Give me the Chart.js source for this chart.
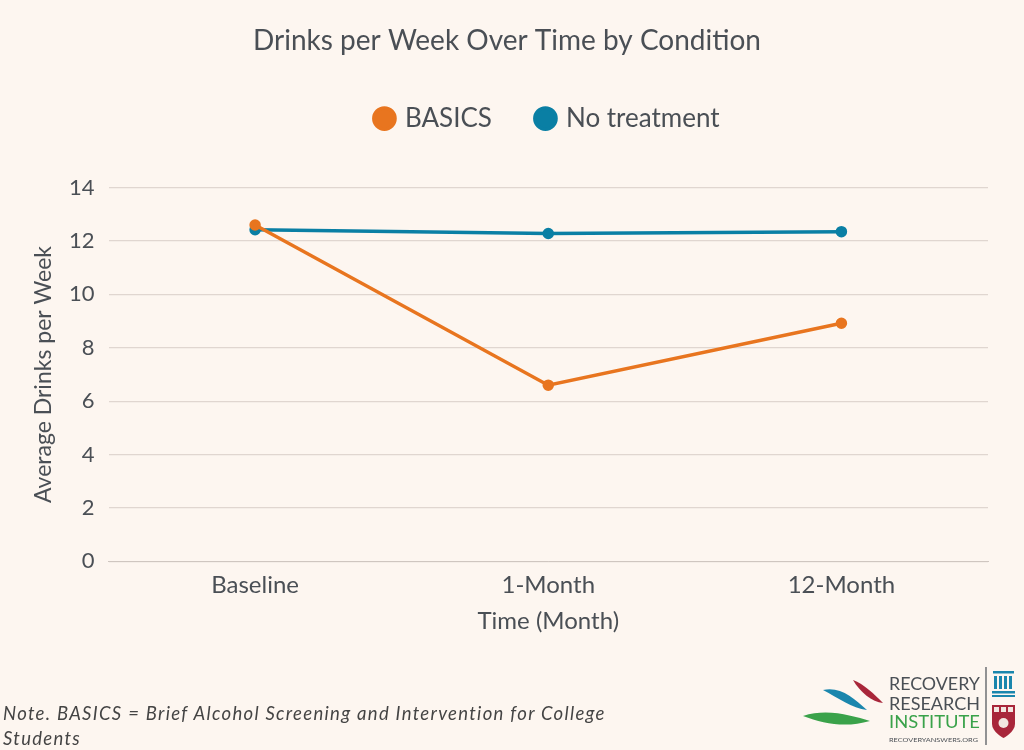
<!DOCTYPE html>
<html>
<head>
<meta charset="utf-8">
<script src="https://cdn.jsdelivr.net/npm/chart.js@4"></script>
<style>
  html, body { margin: 0; padding: 0; background: #fdf6f0; }
  #wrap { position: relative; width: 1024px; height: 750px; }
  #note { position: absolute; left: 3px; top: 701px; width: 625px; font: italic 18.5px Lato, sans-serif; letter-spacing: 1.3px; color: #444; line-height: 25px; }
  #logo { position: absolute; left: 800px; top: 664px; width: 224px; height: 84px; }
</style>
</head>
<body>
<div id="wrap">
  <canvas id="chart" width="1024" height="750"></canvas>
  <div id="note">Note. BASICS = Brief Alcohol Screening and Intervention for College Students</div>
  <svg id="logo" viewBox="0 0 224 84">
    <path d="M23 26 C40 22 54 34 67 46 C52 44 38 34 23 26 Z" fill="#1a86ad"/>
    <path d="M53 16 C64 20 74 30 83 39 C72 38 60 28 53 16 Z" fill="#a8263a"/>
    <path d="M3 52 C28 44 52 52 70 57 C46 64 24 60 3 52 Z" fill="#3aa24a"/>
    <text x="89" y="26" font-family="Lato, sans-serif" font-size="18" fill="#4a4f55" textLength="91" lengthAdjust="spacingAndGlyphs">RECOVERY</text>
    <text x="89" y="46" font-family="Lato, sans-serif" font-size="18" fill="#4a4f55" textLength="91" lengthAdjust="spacingAndGlyphs">RESEARCH</text>
    <text x="89" y="64" font-family="Lato, sans-serif" font-size="18" fill="#3aa24a" textLength="91" lengthAdjust="spacingAndGlyphs">INSTITUTE</text>
    <text x="89" y="78" font-family="Lato, sans-serif" font-size="6.5" fill="#4a4f55" textLength="89" lengthAdjust="spacingAndGlyphs">RECOVERYANSWERS.ORG</text>
    <line x1="186" y1="3" x2="186" y2="81" stroke="#4a4f55" stroke-width="1.2"/>
    <rect x="193" y="7" width="21" height="2.5" fill="#1a86ad"/>
    <rect x="194" y="12" width="3" height="13" fill="#1a86ad"/>
    <rect x="199" y="12" width="3" height="13" fill="#1a86ad"/>
    <rect x="204" y="12" width="3" height="13" fill="#1a86ad"/>
    <rect x="209" y="12" width="3" height="13" fill="#1a86ad"/>
    <rect x="192" y="27" width="23" height="2.5" fill="#1a86ad"/>
    <rect x="192" y="31" width="23" height="2" fill="#1a86ad"/>
    <path d="M192 41 H215 V60 C215 68 203.5 74 203.5 74 C203.5 74 192 68 192 60 Z" fill="#a8263a"/>
    <rect x="194" y="43" width="5" height="5" fill="#f2e6e0"/>
    <rect x="201" y="43" width="5" height="5" fill="#f2e6e0"/>
    <rect x="208" y="43" width="5" height="5" fill="#f2e6e0"/>
    <circle cx="203.5" cy="59" r="5" fill="#f2e6e0"/>
  </svg>
</div>
<script>
// chart data
var timepoints = ['Baseline', '1-Month', '12-Month'];
var basics = [12.6, 6.6, 8.92];
var noTreatment = [12.42, 12.28, 12.35];
var yTicks = [0, 2, 4, 6, 8, 10, 12, 14];

var textColor = '#4a4f55';
var fontFamily = 'Lato, "Open Sans", sans-serif';

// push the plot area down below the legend and centre the legend on the plot
var legendGap = {
    id: 'legendGap',
    beforeInit: function (chart) {
        var origFit = chart.legend.fit;
        chart.legend.fit = function () {
            origFit.bind(chart.legend)();
            this.height += 46;
        };
    },
    afterLayout: function (chart) {
        chart.legend.left = chart.chartArea.left;
        chart.legend.right = chart.chartArea.right;
    }
};

var ctx = document.getElementById('chart').getContext('2d');
var chart = new Chart(ctx, {
    type: 'line',
    data: {
        labels: timepoints,
        datasets: [{
            label: 'BASICS',
            data: basics,
            borderColor: '#e8751f',
            backgroundColor: '#e8751f',
            borderWidth: 3.5,
            pointRadius: 4,
            fill: false
        }, {
            label: 'No treatment',
            data: noTreatment,
            borderColor: '#0a7fa4',
            backgroundColor: '#0a7fa4',
            borderWidth: 3.5,
            pointRadius: 4,
            fill: false
        }]
    },
    plugins: [legendGap],
    options: {
        responsive: false,
        animation: false,
        layout: { padding: { left: 26, right: 36, top: 20, bottom: 110 } },
        plugins: {
            title: {
                display: true,
                text: 'Drinks per Week Over Time by Condition',
                color: textColor,
                font: { family: fontFamily, size: 28, weight: 'normal' },
                padding: { top: 4, bottom: 2 }
            },
            legend: {
                position: 'top',
                labels: {
                    usePointStyle: true,
                    pointStyle: 'circle',
                    boxWidth: 15,
                    boxHeight: 15,
                    padding: 46,
                    color: textColor,
                    font: { family: fontFamily, size: 26 }
                }
            },
            tooltip: { enabled: false }
        },
        scales: {
            x: {
                offset: true,
                grid: { display: false },
                border: { color: '#cfc6c0' },
                ticks: { color: textColor, font: { family: fontFamily, size: 24 }, padding: 1 },
                title: { display: true, text: 'Time (Month)', color: textColor, font: { family: fontFamily, size: 24 }, padding: { top: 7 } }
            },
            y: {
                min: 0,
                max: 14,
                afterBuildTicks: function (axis) {
                    axis.ticks = yTicks.map(function (v) { return { value: v }; });
                },
                grid: { color: '#e0d6d0', lineWidth: 1.2, drawTicks: false },
                border: { display: false },
                ticks: { color: textColor, font: { family: fontFamily, size: 22 }, padding: 14 },
                title: { display: true, text: 'Average Drinks per Week', color: textColor, font: { family: fontFamily, size: 23, lineHeight: 1 }, padding: { top: 6, bottom: 0 } }
            }
        }
    }
});
</script>
</body>
</html>
